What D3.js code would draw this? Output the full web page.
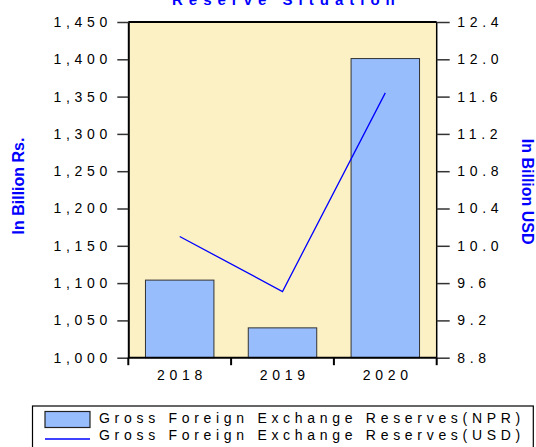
<!DOCTYPE html>
<html>
<head>
<meta charset="utf-8">
<script src="https://cdn.jsdelivr.net/npm/d3@7"></script>
<style>
    body { margin: 0; background: #fff; }
    text { font-family: "Liberation Sans", Arial, sans-serif; }
</style>
</head>
<body>
<div id="vis"></div>
<script>
// data
var years = ["2018", "2019", "2020"];
var reservesNPR = [1104, 1040, 1401];
var reservesUSD = [10.10, 9.51, 11.64];
var nprTicks = [1000, 1050, 1100, 1150, 1200, 1250, 1300, 1350, 1400, 1450];
var usdTicks = [8.8, 9.2, 9.6, 10.0, 10.4, 10.8, 11.2, 11.6, 12.0, 12.4];
var legendLabels = ["Gross Foreign Exchange Reserves(NPR)", "Gross Foreign Exchange Reserves(USD)"];

var width = 536;
var height = 447;

var LABEL_SIZE = 14;
var LABEL_SPACING = 4.7;

var plot = { left: 128.3, right: 436.7, top: 22, bottom: 357.7 };

var svg = d3.select("#vis")
            .append("svg")
            .attr("width", width)
            .attr("height", height);

// scales
var x = d3.scaleBand()
    .domain(years)
    .range([plot.left, plot.right])
    .paddingInner(0.334)
    .paddingOuter(0.167);

var yL = d3.scaleLinear().domain([1000, 1450]).range([plot.bottom, plot.top]);
var yR = d3.scaleLinear().domain([8.8, 12.4]).range([plot.bottom, plot.top]);

// plot background
svg.append("rect")
    .attr("x", plot.left)
    .attr("y", plot.top)
    .attr("width", plot.right - plot.left)
    .attr("height", plot.bottom - plot.top)
    .attr("fill", "#fcf1c5");

// bars
svg.append("g")
    .selectAll("rect")
    .data(reservesNPR)
    .enter().append("rect")
    .attr("x", function(d, i) { return x(years[i]); })
    .attr("y", function(d) { return yL(d); })
    .attr("width", x.bandwidth())
    .attr("height", function(d) { return yL(1000) - yL(d); })
    .attr("fill", "#97bdfd")
    .attr("stroke", "#333")
    .attr("stroke-width", 1);

// usd line
var line = d3.line()
    .x(function(d, i) { return x(years[i]) + x.bandwidth() / 2; })
    .y(function(d) { return yR(d); });

svg.append("path")
    .datum(reservesUSD)
    .attr("d", line)
    .attr("fill", "none")
    .attr("stroke", "#0000ff")
    .attr("stroke-width", 1.3);

// frame top / right
svg.append("line")
    .attr("x1", plot.left).attr("x2", plot.right)
    .attr("y1", plot.top).attr("y2", plot.top)
    .attr("stroke", "#000").attr("stroke-width", 2);
svg.append("line")
    .attr("x1", plot.right).attr("x2", plot.right)
    .attr("y1", plot.top).attr("y2", plot.bottom)
    .attr("stroke", "#000").attr("stroke-width", 1.5);

// left axis
var axisL = svg.append("g")
    .attr("transform", "translate(" + plot.left + ",0)")
    .call(d3.axisLeft(yL).tickValues(nprTicks).tickFormat(d3.format(",d")).tickSize(11).tickPadding(5.3).tickSizeOuter(0));

// right axis
var axisR = svg.append("g")
    .attr("transform", "translate(" + plot.right + ",0)")
    .call(d3.axisRight(yR).tickValues(usdTicks).tickFormat(d3.format(".1f")).tickSize(13).tickPadding(7.6).tickSizeOuter(0));

[axisL, axisR].forEach(function(a) {
    a.selectAll("text")
        .attr("font-size", LABEL_SIZE)
        .attr("letter-spacing", LABEL_SPACING)
        .attr("fill", "#000");
    a.selectAll(".tick line").attr("stroke", "#333").attr("stroke-width", 1.5);
});
axisL.select(".domain").attr("stroke", "#000").attr("stroke-width", 2);
axisR.select(".domain").remove();

// bottom axis: ticks at category boundaries, labels centred
var bottom = svg.append("g");

bottom.append("line")
    .attr("x1", plot.left).attr("x2", plot.right)
    .attr("y1", plot.bottom).attr("y2", plot.bottom)
    .attr("stroke", "#000").attr("stroke-width", 2);

bottom.selectAll(".sep")
    .data(d3.range(years.length + 1))
    .enter().append("line")
    .attr("x1", function(i) { return x.range()[0] + i * x.step(); })
    .attr("x2", function(i) { return x.range()[0] + i * x.step(); })
    .attr("y1", plot.bottom)
    .attr("y2", plot.bottom + 7.5)
    .attr("stroke", "#000")
    .attr("stroke-width", 2);

bottom.selectAll(".lbl")
    .data(years)
    .enter().append("text")
    .attr("x", function(d) { return x(d) + x.bandwidth() / 2 + LABEL_SPACING / 2; })
    .attr("y", 379.5)
    .attr("text-anchor", "middle")
    .attr("font-size", LABEL_SIZE)
    .attr("letter-spacing", LABEL_SPACING)
    .attr("fill", "#000")
    .text(function(d) { return d; });

// title (cut off at top of image, as in the original)
svg.append("text")
    .attr("x", 172)
    .attr("y", 5)
    .attr("font-size", 15)
    .attr("font-weight", "bold")
    .attr("letter-spacing", 6)
    .attr("fill", "#0000ff")
    .text("Reserve Situation");

// axis titles
svg.append("text")
    .attr("transform", "translate(23.5,186) rotate(-90)")
    .attr("text-anchor", "middle")
    .attr("font-size", 16)
    .attr("font-weight", "bold")
    .attr("fill", "#0000ff")
    .text("In Billion Rs.");

svg.append("text")
    .attr("transform", "translate(521.5,191.7) rotate(90)")
    .attr("text-anchor", "middle")
    .attr("font-size", 16)
    .attr("font-weight", "bold")
    .attr("fill", "#0000ff")
    .text("In Billion USD");

// legend
var legend = svg.append("g");

legend.append("rect")
    .attr("x", 32.5).attr("y", 406)
    .attr("width", 500.8).attr("height", 60)
    .attr("fill", "#fff")
    .attr("stroke", "#000")
    .attr("stroke-width", 1.2);

legend.append("rect")
    .attr("x", 45).attr("y", 411.5)
    .attr("width", 45).attr("height", 16)
    .attr("fill", "#97bdfd")
    .attr("stroke", "#222")
    .attr("stroke-width", 1.2);

legend.append("line")
    .attr("x1", 45).attr("x2", 90)
    .attr("y1", 439).attr("y2", 439)
    .attr("stroke", "#0000ff")
    .attr("stroke-width", 1.3);

legend.selectAll(".ltxt")
    .data(legendLabels)
    .enter().append("text")
    .attr("x", 99)
    .attr("y", function(d, i) { return 423 + i * 17.3; })
    .attr("font-size", LABEL_SIZE)
    .attr("letter-spacing", LABEL_SPACING)
    .attr("fill", "#000")
    .text(function(d) { return d; });
</script>
</body>
</html>
